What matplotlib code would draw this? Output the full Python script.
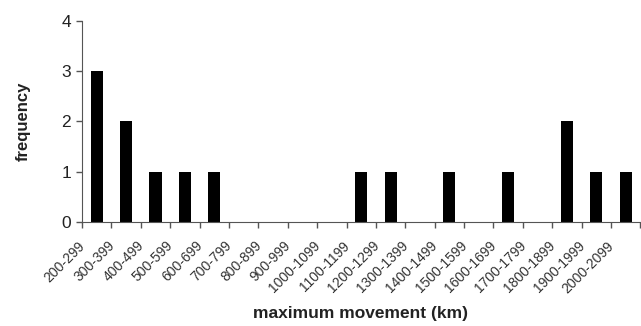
import numpy as np
import matplotlib.pyplot as plt
from matplotlib.transforms import ScaledTranslation

plt.rcParams['font.family'] = ['Liberation Sans', 'DejaVu Sans']

# distance classes (km) and how many fell in each
bins = ['200-299', '300-399', '400-499', '500-599', '600-699', '700-799',
        '800-899', '900-999', '1000-1099', '1100-1199', '1200-1299',
        '1300-1399', '1400-1499', '1500-1599', '1600-1699', '1700-1799',
        '1800-1899', '1900-1999', '2000-2099']
counts = [3, 2, 1, 1, 1, 0, 0, 0, 0, 1, 1, 0, 1, 0, 1, 0, 2, 1, 1]

fig = plt.figure(figsize=(6.41, 3.26), dpi=100)
ax = fig.add_axes([0.128, 0.319, 0.871, 0.617])

x = np.arange(len(bins))
ax.bar(x, counts, width=0.41, color='black')

ax.set_xlim(-0.5, len(bins) - 0.5)
ax.set_ylim(0, 4)
ax.set_yticks([0, 1, 2, 3, 4])
ax.tick_params(axis='y', labelsize=12.5, length=4, width=1, color='#555555',
               pad=4, labelcolor='#222222')

# ticks sit between the classes, labels under the class centres
ax.set_xticks(np.arange(len(bins) + 1) - 0.5, minor=False)
ax.set_xticklabels([])
ax.set_xticks(x, minor=True)
ax.set_xticklabels(bins, minor=True, rotation=45, ha='right', fontsize=10,
                   color='#333333')
ax.tick_params(axis='x', which='major', length=4, width=1, color='#555555')
ax.tick_params(axis='x', which='minor', length=0, pad=12)
shift = ScaledTranslation(-9 / 100, 0, fig.dpi_scale_trans)
for lbl in ax.get_xticklabels(minor=True):
    lbl.set_transform(lbl.get_transform() + shift)

for side in ['top', 'right']:
    ax.spines[side].set_visible(False)
for side in ['left', 'bottom']:
    ax.spines[side].set_color('#555555')

ax.set_ylabel('frequency', fontsize=12, fontweight='bold', labelpad=22,
              color='#222222')
fig.text(0.563, 0.015, 'maximum movement (km)', fontsize=12.5, fontweight='bold',
         ha='center', va='bottom', color='#222222')

fig.savefig('out.png', dpi=100)
